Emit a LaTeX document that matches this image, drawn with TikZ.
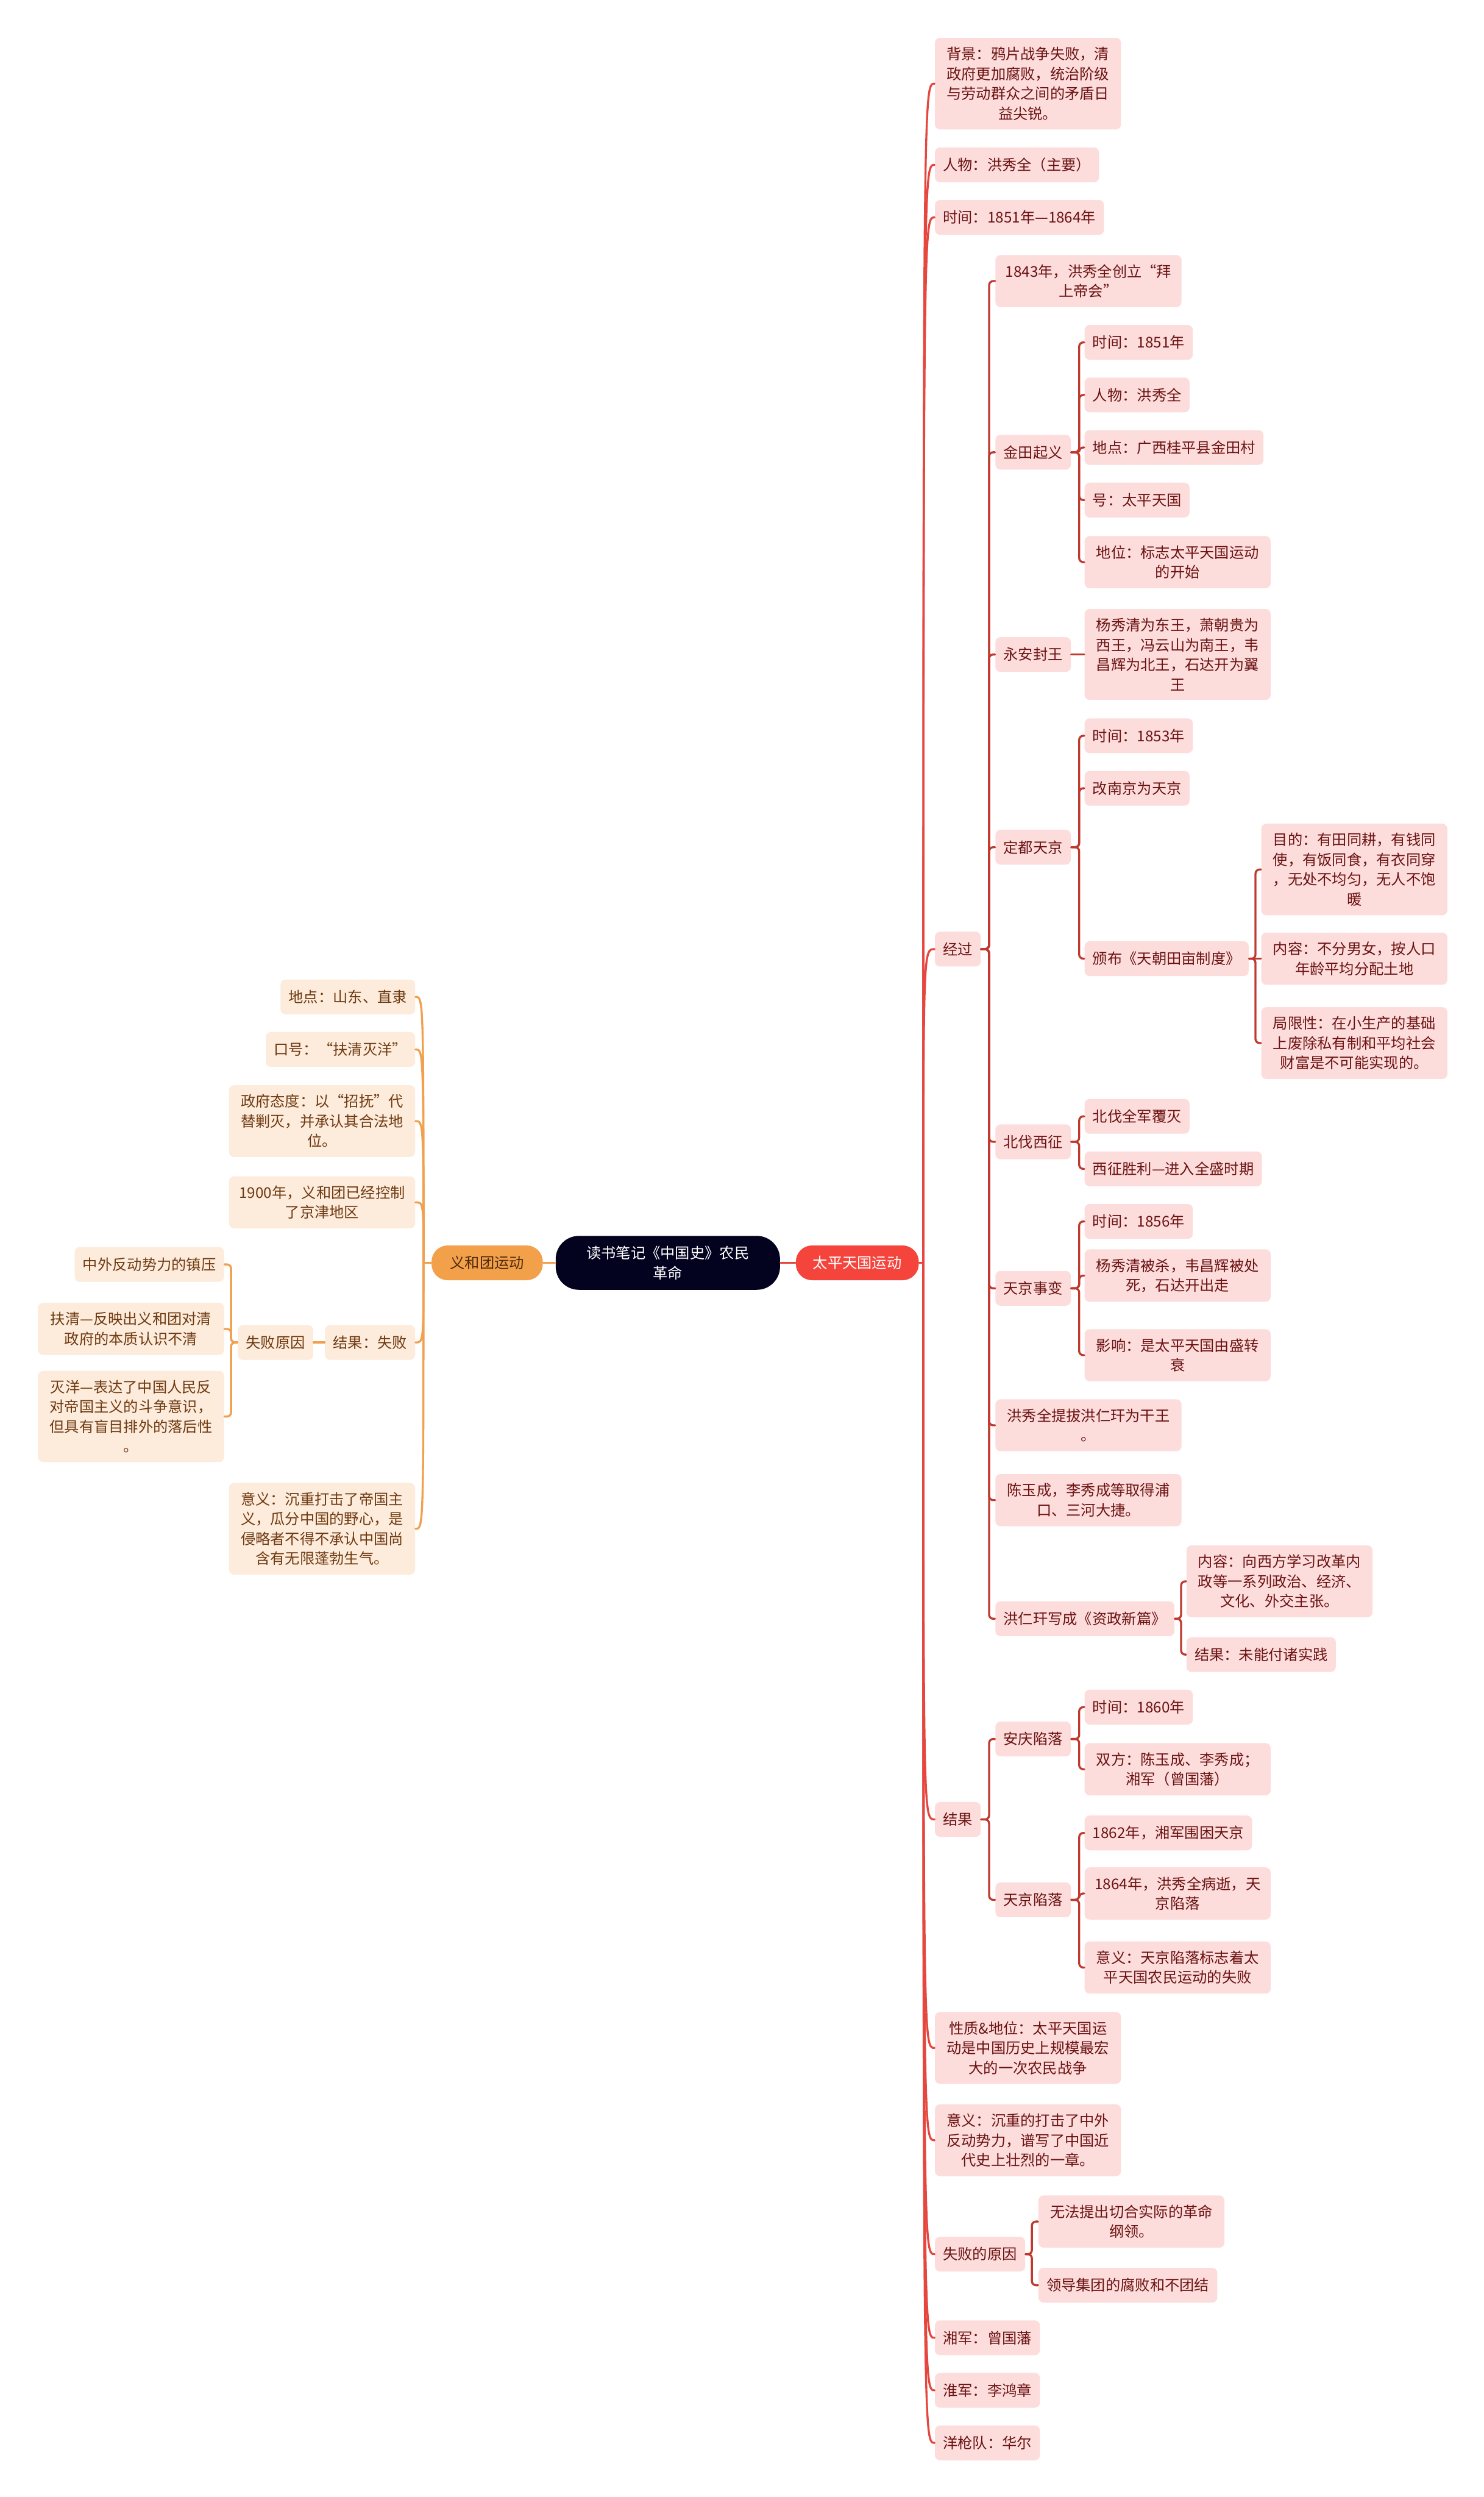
\documentclass[tikz,border=0pt]{standalone}
\usepackage{fontspec}
\setmainfont{Noto Sans CJK SC}
\definecolor{navy}{HTML}{03021F}
\definecolor{boxerorange}{HTML}{F3A04B}
\definecolor{taipingred}{HTML}{F4443C}
\definecolor{pinkbg}{HTML}{FDDCDC}
\definecolor{pinktext}{HTML}{6B1212}
\definecolor{redline}{HTML}{E5473F}
\definecolor{darkred}{HTML}{C0392F}
\definecolor{peachbg}{HTML}{FDEBDC}
\definecolor{browntext}{HTML}{6E3A10}
\definecolor{orangeline}{HTML}{F0A04E}
\begin{document}
\begin{tikzpicture}[x=0.02747cm, y=-0.02747cm, font={\fontsize{7.26pt}{9.7pt}\selectfont}, line join=round, line cap=round,
	pbox/.style={fill=pinkbg, text=pinktext, rounded corners=2.5pt, inner xsep=0.14cm, inner ysep=0.16cm, minimum height=0.6cm, align=center, anchor=west},
	pwide/.style={pbox, minimum width=3.21cm},
	obox/.style={fill=peachbg, text=browntext, rounded corners=2.5pt, inner xsep=0.14cm, inner ysep=0.16cm, minimum height=0.6cm, align=center, anchor=east},
	owide/.style={obox, minimum width=3.21cm},
	rline/.style={draw=redline, line width=1pt},
	rlink/.style={draw=darkred, line width=1pt, rounded corners=2pt},
	oline/.style={draw=orangeline, line width=1pt},
	olink/.style={oline, rounded corners=2pt}]
	\fill[white] (0,0) rectangle (932,1568);
	\node[fill=navy, text=white, rounded corners=0.4cm, minimum width=3.87cm, minimum height=0.93cm, align=center] (c) at (419.5,793) {读书笔记《中国史》农民\\革命};
	\node[fill=boxerorange, text=browntext!70!black, rounded corners=0.28cm, minimum width=1.92cm, minimum height=0.6cm] (yh) at (306,793) {义和团运动};
	\node[fill=taipingred, text=white, rounded corners=0.28cm, minimum width=2.12cm, minimum height=0.6cm] (tp) at (538.5,793) {太平天国运动};
	\draw[oline] (c.west) -- (yh.east);
	\draw[rline] (c.east) -- (tp.west);
	\coordinate (tr) at (580,793);
	\coordinate (tl) at (266,793);
	\draw[rline] (tp.east) -- (tr);
	\draw[oline] (yh.west) -- (tl);

	\node[pwide] (bj) at (587,52.5) {背景：鸦片战争失败，清\\政府更加腐败，统治阶级\\与劳动群众之间的矛盾日\\益尖锐。};
	\node[pbox] (rw) at (587,103.5) {人物：洪秀全（主要）};
	\node[pbox] (sj) at (587,136.5) {时间：1851年—1864年};
	\node[pbox] (jg) at (587,596) {经过};
	\node[pbox] (jieg) at (587,1142.5) {结果};
	\node[pwide] (xz) at (587,1286) {性质\&地位：太平天国运\\动是中国历史上规模最宏\\大的一次农民战争};
	\node[pwide] (yy) at (587,1344) {意义：沉重的打击了中外\\反动势力，谱写了中国近\\代史上壮烈的一章。};
	\node[pbox] (sb) at (587,1415.5) {失败的原因};
	\node[pbox] (xj) at (587,1468) {湘军：曾国藩};
	\node[pbox] (hj) at (587,1501) {淮军：李鸿章};
	\node[pbox] (yq) at (587,1534) {洋枪队：华尔};
	\foreach \n in {bj,rw,sj,jg,jieg,xz,yy,sb,xj,hj,yq}
		\draw[rline] (tr) .. controls (tr |- \n.west) .. (\n.west);

	\node[pwide] (bs) at (625,176.5) {1843年，洪秀全创立“拜\\上帝会”};
	\node[pbox] (jt) at (625,284) {金田起义};
	\node[pbox] (ya) at (625,411) {永安封王};
	\node[pbox] (dd) at (625,532) {定都天京};
	\node[pbox] (bf) at (625,717) {北伐西征};
	\node[pbox] (tb) at (625,809) {天京事变};
	\node[pwide] (tg) at (625,895) {洪秀全提拔洪仁玕为干王\\。};
	\node[pwide] (cy) at (625,942) {陈玉成，李秀成等取得浦\\口、三河大捷。};
	\node[pbox] (zz) at (625,1016.5) {洪仁玕写成《资政新篇》};
	\foreach \n in {bs,jt,ya,dd,bf,tb,tg,cy,zz}
		\draw[rlink] (jg.east) -- ++(5,0) |- (\n.west);

	\node[pbox] (t1) at (681,215) {时间：1851年};
	\node[pbox] (t2) at (681,248) {人物：洪秀全};
	\node[pbox] (t3) at (681,281) {地点：广西桂平县金田村};
	\node[pbox] (t4) at (681,314) {号：太平天国};
	\node[pwide] (t5) at (681,353) {地位：标志太平天国运动\\的开始};
	\foreach \n in {t1,t2,t3,t4,t5}
		\draw[rlink] (jt.east) -- ++(5,0) |- (\n.west);

	\node[pwide] (w1) at (681,411) {杨秀清为东王，萧朝贵为\\西王，冯云山为南王，韦\\昌辉为北王，石达开为翼\\王};
	\draw[rlink] (ya.east) -- (w1.west);

	\node[pbox] (d1) at (681,462) {时间：1853年};
	\node[pbox] (d2) at (681,495) {改南京为天京};
	\node[pbox] (d3) at (681,602) {颁布《天朝田亩制度》};
	\foreach \n in {d1,d2,d3}
		\draw[rlink] (dd.east) -- ++(5,0) |- (\n.west);
	\node[pwide] (e1) at (792,546) {目的：有田同耕，有钱同\\使，有饭同食，有衣同穿\\，无处不均匀，无人不饱\\暖};
	\node[pwide] (e2) at (792,602) {内容：不分男女，按人口\\年龄平均分配土地};
	\node[pwide] (e3) at (792,655) {局限性：在小生产的基础\\上废除私有制和平均社会\\财富是不可能实现的。};
	\draw[rlink] (d3.east) -- (e2.west);
	\foreach \n in {e1,e3}
		\draw[rlink] (d3.east) -- ++(4,0) |- (\n.west);

	\node[pbox] (b1) at (681,701) {北伐全军覆灭};
	\node[pbox] (b2) at (681,734) {西征胜利—进入全盛时期};
	\foreach \n in {b1,b2}
		\draw[rlink] (bf.east) -- ++(5,0) |- (\n.west);

	\node[pbox] (s1) at (681,767) {时间：1856年};
	\node[pwide] (s2) at (681,801) {杨秀清被杀，韦昌辉被处\\死，石达开出走};
	\node[pwide] (s3) at (681,851) {影响：是太平天国由盛转\\衰};
	\foreach \n in {s1,s2,s3}
		\draw[rlink] (tb.east) -- ++(5,0) |- (\n.west);

	\node[pwide] (z1) at (745,993) {内容：向西方学习改革内\\政等一系列政治、经济、\\文化、外交主张。};
	\node[pbox] (z2) at (745,1039) {结果：未能付诸实践};
	\foreach \n in {z1,z2}
		\draw[rlink] (zz.east) -- ++(4,0) |- (\n.west);

	\node[pbox] (aq) at (625,1092) {安庆陷落};
	\node[pbox] (tx) at (625,1193) {天京陷落};
	\foreach \n in {aq,tx}
		\draw[rlink] (jieg.east) -- ++(5,0) |- (\n.west);
	\node[pbox] (a1) at (681,1072) {时间：1860年};
	\node[pwide] (a2) at (681,1111) {双方：陈玉成、李秀成；\\湘军（曾国藩）};
	\foreach \n in {a1,a2}
		\draw[rlink] (aq.east) -- ++(5,0) |- (\n.west);
	\node[pbox] (x1) at (681,1151) {1862年，湘军围困天京};
	\node[pwide] (x2) at (681,1189) {1864年，洪秀全病逝，天\\京陷落};
	\node[pwide] (x3) at (681,1235.5) {意义：天京陷落标志着太\\平天国农民运动的失败};
	\foreach \n in {x1,x2,x3}
		\draw[rlink] (tx.east) -- ++(5,0) |- (\n.west);

	\node[pwide] (f1) at (652,1395) {无法提出切合实际的革命\\纲领。};
	\node[pbox] (f2) at (652,1435) {领导集团的腐败和不团结};
	\foreach \n in {f1,f2}
		\draw[rlink] (sb.east) -- ++(4,0) |- (\n.west);

	\node[obox] (l1) at (261,626) {地点：山东、直隶};
	\node[obox] (l2) at (261,659) {口号：“扶清灭洋”};
	\node[owide] (l3) at (261,704) {政府态度：以“招抚”代\\替剿灭，并承认其合法地\\位。};
	\node[owide] (l4) at (261,755) {1900年，义和团已经控制\\了京津地区};
	\node[obox] (l5) at (261,843) {结果：失败};
	\node[owide] (l6) at (261,960) {意义：沉重打击了帝国主\\义，瓜分中国的野心，是\\侵略者不得不承认中国尚\\含有无限蓬勃生气。};
	\foreach \n in {l1,l2,l3,l4,l5,l6}
		\draw[oline] (tl) .. controls (tl |- \n.east) .. (\n.east);

	\node[obox] (fy) at (197,843) {失败原因};
	\draw[oline] (l5.west) -- (fy.east);
	\node[obox] (g1) at (141,794) {中外反动势力的镇压};
	\node[owide] (g2) at (141,834.5) {扶清—反映出义和团对清\\政府的本质认识不清};
	\node[owide] (g3) at (141,889.5) {灭洋—表达了中国人民反\\对帝国主义的斗争意识，\\但具有盲目排外的落后性\\。};
	\foreach \n in {g1,g2,g3}
		\draw[olink] (fy.west) -- ++(-4,0) |- (\n.east);
\end{tikzpicture}
\end{document}
